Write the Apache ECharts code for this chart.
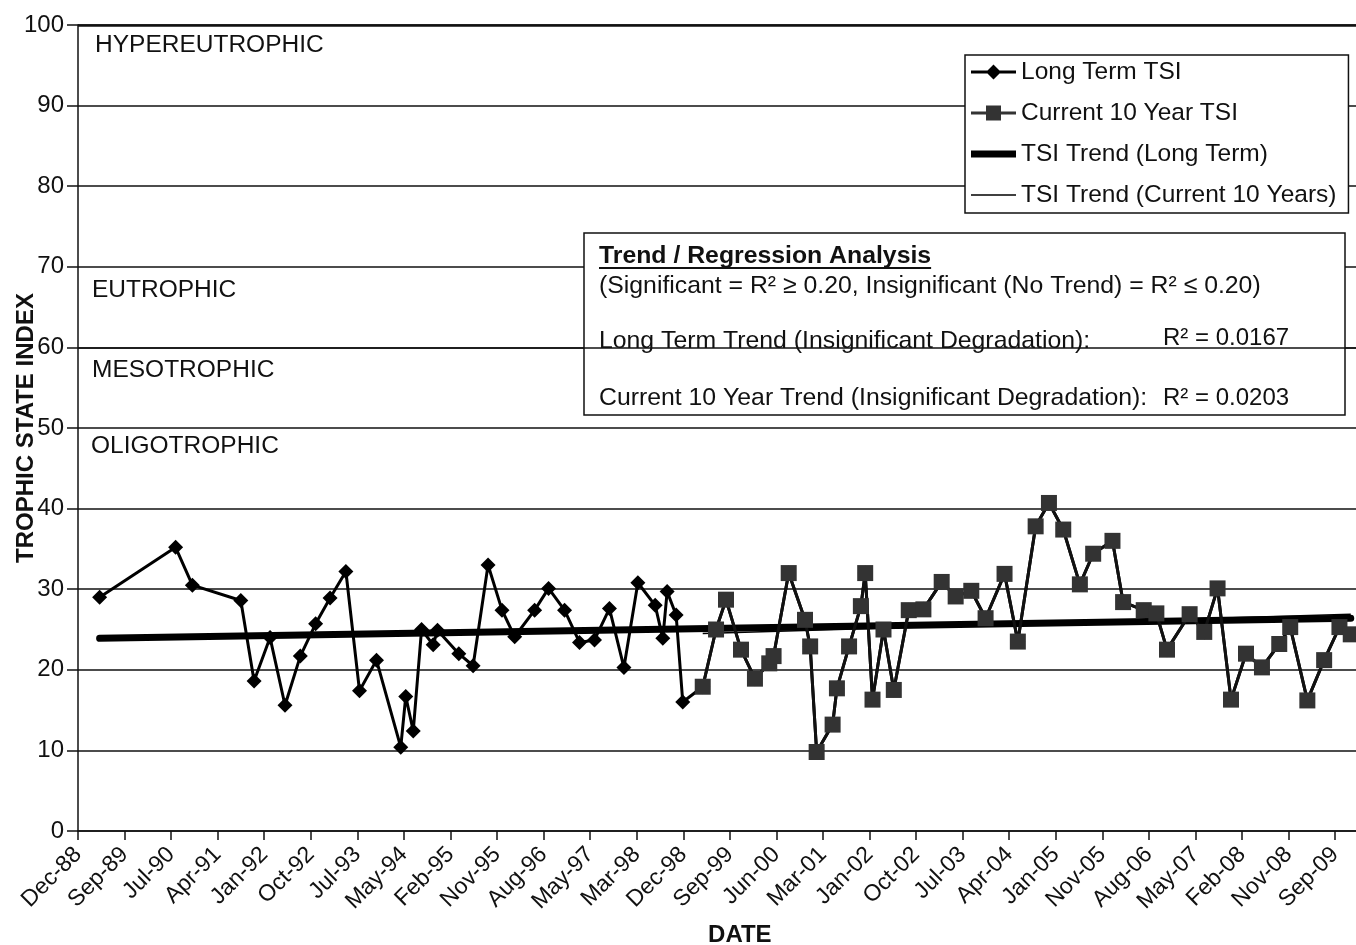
<!DOCTYPE html>
<html>
<head>
<meta charset="utf-8">
<script src="https://cdn.jsdelivr.net/npm/echarts@6/dist/echarts.min.js"></script>
<style>
html,body{margin:0;padding:0;overflow:hidden;background:#fff;}
#c{width:1400px;height:945px;}
</style>
</head>
<body>
<div id="c"></div>
<script>
// ---------- data ----------
const tickLabels = ['Dec-88','Sep-89','Jul-90','Apr-91','Jan-92','Oct-92','Jul-93','May-94','Feb-95','Nov-95',
  'Aug-96','May-97','Mar-98','Dec-98','Sep-99','Jun-00','Mar-01','Jan-02','Oct-02','Jul-03','Apr-04','Jan-05',
  'Nov-05','Aug-06','May-07','Feb-08','Nov-08','Sep-09'];
const axisStartDate = '1988-12-22';
const tickIntervalDays = 280;
const tickCount = 28;

const longTermDates = ['1989-05-01','1990-08-01','1990-11-10','1991-08-28','1991-11-16','1992-02-20','1992-05-20',
  '1992-08-20','1992-11-20','1993-02-15','1993-05-21','1993-08-11','1993-11-21','1994-04-16','1994-05-16',
  '1994-06-30','1994-08-19','1994-10-28','1994-11-23','1995-03-31','1995-06-25','1995-09-23','1995-12-16',
  '1996-03-01','1996-06-29','1996-09-21','1996-12-26','1997-03-26','1997-06-24','1997-09-22','1997-12-18',
  '1998-03-12','1998-06-24','1998-08-09','1998-09-04','1998-10-28','1998-12-07'];
const longTermValues = [29.0,35.2,30.5,28.6,18.6,24.0,15.6,21.7,25.7,28.9,32.2,17.4,21.2,10.4,16.7,
  12.4,25.0,23.1,24.9,22.0,20.5,33.0,27.4,24.1,27.4,30.1,27.4,23.4,23.7,27.6,20.3,
  30.8,28.0,23.9,29.7,26.8,16.0];

const currentDates = ['1999-04-06','1999-06-25','1999-08-24','1999-11-22','2000-02-14','2000-05-10','2000-06-05',
  '2000-09-04','2000-12-11','2001-01-11','2001-02-19','2001-05-26','2001-06-21','2001-09-02','2001-11-12',
  '2001-12-08','2002-01-21','2002-03-28','2002-05-29','2002-08-27','2002-11-23','2003-03-13','2003-06-05',
  '2003-09-07','2003-12-02','2004-03-25','2004-06-13','2004-09-28','2004-12-17','2005-03-13','2005-06-21',
  '2005-09-09','2006-01-03','2006-03-08','2006-07-10','2006-09-24','2006-11-27','2007-04-12','2007-07-09',
  '2007-09-27','2007-12-17','2008-03-16','2008-06-20','2008-10-02','2008-12-07','2009-03-20','2009-06-29',
  '2009-09-29','2009-12-06'];
const currentValues = [17.9,25.0,28.7,22.5,18.9,20.8,21.7,32.0,26.2,22.9,9.8,13.2,17.7,22.9,27.9,
  32.0,16.3,25.0,17.5,27.4,27.5,30.9,29.1,29.8,26.4,31.9,23.5,37.8,40.7,37.4,30.6,
  34.4,36.0,28.4,27.4,27.0,22.5,26.9,24.7,30.1,16.3,22.0,20.3,23.2,25.3,16.2,21.2,
  25.3,24.4];

const trendLongDates = ['1989-05-01','2009-12-06'];
const trendLongValues = [23.9, 26.4];
const trendCurrentDates = ['1999-04-06','2009-12-06'];
const trendCurrentValues = [24.5, 26.9];

const zoneNames = ['HYPEREUTROPHIC','EUTROPHIC','MESOTROPHIC','OLIGOTROPHIC'];
const legendNames = ['Long Term TSI','Current 10 Year TSI','TSI Trend (Long Term)','TSI Trend (Current 10 Years)'];

// ---------- helpers ----------
const DAY = 86400000;
const t0 = Date.parse(axisStartDate);
const dayOf = s => (Date.parse(s) - t0) / DAY;
const pairs = (d, v) => d.map((s, i) => [dayOf(s), v[i]]);

const FONT = '"Liberation Sans", Arial, sans-serif';
const chart = echarts.init(document.getElementById('c'), null, {renderer: 'canvas'});

const BOXFONT = 24.8;
const mc = document.createElement('canvas').getContext('2d');
mc.font = '700 ' + BOXFONT + 'px ' + FONT;
const titleText = 'Trend / Regression Analysis';
const titleW = mc.measureText(titleText).width;

const txt = (text, x, y, opts) => Object.assign({
  type: 'text', x: x, y: y, z: 20,
  style: Object.assign({text: text, fill: '#111', font: BOXFONT + 'px ' + FONT, verticalAlign: 'middle', align: 'left'}, opts || {})
});

const option = {
  animation: false,
  backgroundColor: '#fff',
  grid: {left: 78, right: 1400 - 78 - 46.56 * tickCount, top: 25, bottom: 114,
         containLabel: false, outerBoundsMode: 'none'},
  xAxis: {
    type: 'value', min: 0, max: tickIntervalDays * tickCount, interval: tickIntervalDays,
    name: 'DATE', nameLocation: 'middle', nameGap: 92, nameMoveOverlap: false,
    nameTextStyle: {fontFamily: FONT, fontWeight: 'bold', fontSize: 24, color: '#111', padding: [0, 0, 0, 20]},
    axisLine: {show: true, onZero: false, lineStyle: {color: '#111', width: 1.5}},
    axisTick: {show: true, length: 9, lineStyle: {color: '#111', width: 1.5}},
    splitLine: {show: false},
    axisLabel: {
      rotate: 45, margin: 20, fontSize: 23, fontFamily: FONT, color: '#111', showMaxLabel: false, showMinLabel: true,
      hideOverlap: false,
      formatter: v => tickLabels[Math.round(v / tickIntervalDays)] || ''
    }
  },
  yAxis: {
    type: 'value', min: 0, max: 100, interval: 10,
    name: 'TROPHIC STATE INDEX', nameLocation: 'middle', nameGap: 40, nameRotate: 90, nameMoveOverlap: false,
    nameTextStyle: {fontFamily: FONT, fontWeight: 'bold', fontSize: 24, color: '#111'},
    axisLine: {show: true, lineStyle: {color: '#111', width: 1.5}},
    axisTick: {show: true, length: 11, lineStyle: {color: '#111', width: 1.5}},
    splitLine: {show: true, lineStyle: {color: '#111', width: 1.5}},
    axisLabel: {fontSize: 24, fontFamily: FONT, color: '#111', margin: 14}
  },
  legend: {
    orient: 'vertical', left: 965, top: 55,
    backgroundColor: '#fff', borderColor: '#111', borderWidth: 1.5, borderRadius: 0,
    padding: [4, 12, 5, 6], itemGap: 15, itemWidth: 45, itemHeight: 19,
    textStyle: {fontFamily: FONT, fontSize: 24.5, color: '#111', lineHeight: 26},
    data: [
      {name: legendNames[0], icon: 'path://M0,8H45V11H0Z M22.5,2L30,9.5L22.5,17L15,9.5Z'},
      {name: legendNames[1], icon: 'path://M0,8H45V11H0Z M15,2H30V17H15Z'},
      {name: legendNames[2], icon: 'path://M0,0H45V7H0Z'},
      {name: legendNames[3], icon: 'path://M0,0H45V1.4H0Z'}
    ]
  },
  graphic: [
    {type: 'rect', z: 10, shape: {x: 584, y: 233, width: 761, height: 182},
     style: {fill: '#fff', stroke: '#111', lineWidth: 1.5}},
    txt(titleText, 599, 256, {font: '700 ' + BOXFONT + 'px ' + FONT}),
    {type: 'line', z: 20, shape: {x1: 599, y1: 268, x2: 599 + titleW, y2: 268}, style: {stroke: '#111', lineWidth: 2}},
    txt('(Significant = R\u00b2 \u2265 0.20, Insignificant (No Trend) = R\u00b2 \u2264 0.20)', 599, 286),
    txt('Long Term Trend (Insignificant Degradation):', 599, 341),
    txt('R\u00b2 = 0.0167', 1163, 338, {font: '24px ' + FONT}),
    txt('Current 10 Year Trend (Insignificant Degradation):', 599, 398),
    txt('R\u00b2 = 0.0203', 1163, 398, {font: '24px ' + FONT}),
    txt(zoneNames[0], 95, 45, {font: '24.5px ' + FONT}),
    txt(zoneNames[1], 92, 290, {font: '24.5px ' + FONT}),
    txt(zoneNames[2], 92, 370, {font: '24.5px ' + FONT}),
    txt(zoneNames[3], 91, 446, {font: '24.5px ' + FONT})
  ],
  series: [
    {
      name: legendNames[2], type: 'line', z: 2, symbol: 'none',
      data: pairs(trendLongDates, trendLongValues),
      lineStyle: {color: '#000', width: 7, cap: 'round'}, itemStyle: {color: '#000'}
    },
    {
      name: legendNames[3], type: 'line', z: 2, symbol: 'none',
      data: pairs(trendCurrentDates, trendCurrentValues),
      lineStyle: {color: '#000', width: 1.4}, itemStyle: {color: '#000'}
    },
    {
      name: legendNames[0], type: 'line', z: 3, symbol: 'diamond', symbolSize: 15,
      data: pairs(longTermDates.concat(currentDates), longTermValues.concat(currentValues)),
      lineStyle: {color: '#000', width: 3}, itemStyle: {color: '#000'},
      markLine: {
        silent: true, symbol: 'none', z: 12, label: {show: false},
        lineStyle: {color: '#111', width: 1.5, type: 'solid'},
        data: [{yAxis: 60}, {yAxis: 100, lineStyle: {width: 2.5}}]
      }
    },
    {
      name: legendNames[1], type: 'line', z: 4, symbol: 'rect', symbolSize: 16,
      data: pairs(currentDates, currentValues),
      lineStyle: {color: '#111', width: 3}, itemStyle: {color: '#333'}
    }
  ]
};
chart.setOption(option);
</script>
</body>
</html>
